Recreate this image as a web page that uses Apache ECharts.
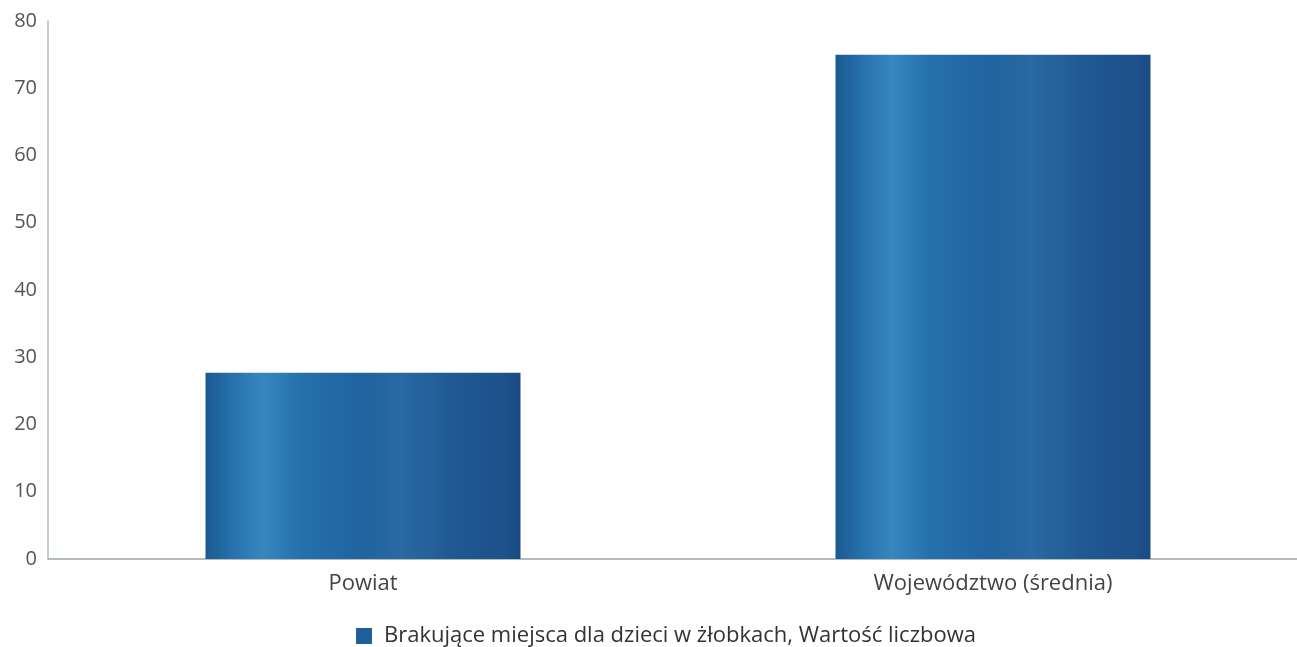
<!DOCTYPE html>
<html>
<head>
<meta charset="utf-8">
<script src="https://cdn.jsdelivr.net/npm/echarts@6/dist/echarts.min.js"></script>
<style>
html,body{margin:0;padding:0;background:#fff;overflow:hidden;}
#chart{width:1297px;height:647px;}
</style>
</head>
<body>
<div id="chart"></div>
<script>
const categories = ['Powiat', 'Województwo (średnia)'];
const seriesName = 'Brakujące miejsca dla dzieci w żłobkach, Wartość liczbowa';
const values = [27.7, 75];
const yTicks = [0, 10, 20, 30, 40, 50, 60, 70, 80];

const chart = echarts.init(document.getElementById('chart'));
const barColor = new echarts.graphic.LinearGradient(0, 0, 1, 0, [
  {offset: 0, color: '#1b5990'},
  {offset: 0.08, color: '#2670ab'},
  {offset: 0.18, color: '#3787bf'},
  {offset: 0.30, color: '#2570ab'},
  {offset: 0.50, color: '#2064a0'},
  {offset: 0.62, color: '#2a69a3'},
  {offset: 0.80, color: '#1f5893'},
  {offset: 0.95, color: '#1d5189'},
  {offset: 1, color: '#1a4c82'}
]);
chart.setOption({
  animation: false,
  textStyle: {fontFamily: 'Open Sans'},
  grid: {left: 48, width: 1260, top: 21, height: 538, containLabel: false, outerBoundsMode: 'none'},
  legend: {
    left: 351, top: 620,
    itemWidth: 16, itemHeight: 16, itemGap: 10,
    icon: 'rect',
    textStyle: {fontSize: 22, color: '#333', fontFamily: 'Open Sans', padding: [0, 0, 0, 7]},
    data: [{name: seriesName, itemStyle: {color: '#1f5e9a'}}]
  },
  xAxis: {
    type: 'category',
    data: categories,
    axisLine: {show: true, lineStyle: {color: '#9aa6ad', width: 1.5}},
    axisTick: {show: false},
    axisLabel: {fontSize: 22, color: '#444', margin: 14}
  },
  yAxis: {
    type: 'value',
    min: 0, max: 80, interval: 10,
    axisLine: {show: true, lineStyle: {color: '#a8bfcb', width: 1.5}},
    axisTick: {show: false},
    splitLine: {show: false},
    axisLabel: {fontSize: 20, color: '#555', margin: 11,
      formatter: v => yTicks.includes(v) ? String(v) : ''}
  },
  series: [{
    name: seriesName,
    type: 'bar',
    data: values,
    barWidth: '50%',
    itemStyle: {color: barColor}
  }]
});
</script>
</body>
</html>
